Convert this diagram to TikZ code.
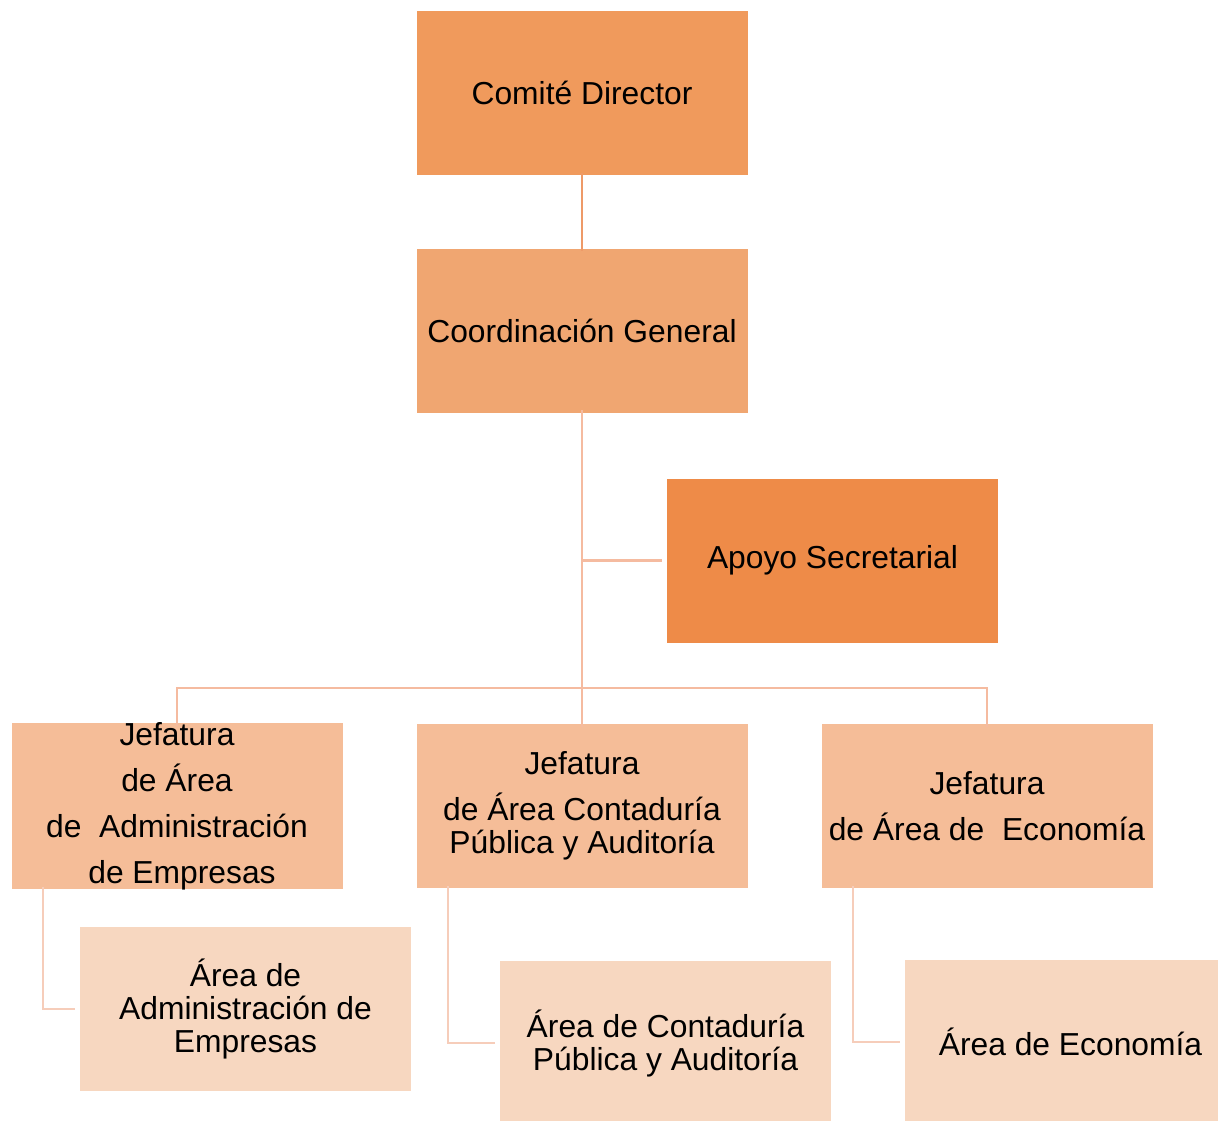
\documentclass[tikz,border=0pt]{standalone}
\usepackage{fontspec}
\setmainfont{Liberation Sans}
\definecolor{cTop}{HTML}{F09A5C}
\definecolor{cCoord}{HTML}{F0A671}
\definecolor{cApoyo}{HTML}{EE8B48}
\definecolor{cJef}{HTML}{F5BD98}
\definecolor{cArea}{HTML}{F7D7C0}
\definecolor{lTop}{HTML}{EE9A68}
\definecolor{lMain}{HTML}{F5BBA0}
\definecolor{lSub}{HTML}{F6CDBA}
\begin{document}
\begin{tikzpicture}[x=1pt,y=-1pt,
  box/.style={rectangle, minimum width=332pt, minimum height=165pt, inner sep=0pt,
    draw=white, line width=0.8pt, align=center, text=black,
    font=\fontsize{31.8}{33}\selectfont},
  topline/.style={draw=lTop, line width=2pt},
  mainline/.style={draw=lMain, line width=2.5pt},
  subline/.style={draw=lSub, line width=2.5pt}]
\clip (0,0) rectangle (1218,1120);
\fill[white] (0,0) rectangle (1218,1120);
% boxes
\node[box, fill=cTop]   (cd) at (582,92.5)   {Comité Director};
\node[box, fill=cCoord] (cg) at (582,330.5)  {Coordinación General};
\node[box, fill=cApoyo] (as) at (832.5,560.5) {Apoyo Secretarial};
\node[box, fill=cJef]   (j1) at (177,806)  {Jefatura\\[13pt]de Área\\[13pt]de~ Administración\\[13pt]\hspace*{10pt}de Empresas};
\node[box, fill=cJef]   (j2) at (582,806)  {Jefatura\\[13pt]de Área Contaduría\\Pública y Auditoría};
\node[box, fill=cJef]   (j3) at (987,806)  {Jefatura\\[13pt]de Área de~ Economía};
\node[box, fill=cArea]  (a1) at (245.5,1009) {Área de\\Administración de\\Empresas};
\node[box, fill=cArea]  (a2) at (665.5,1043) {Área de Contaduría\\Pública y Auditoría};
\node[box, fill=cArea]  (a3) at (1070.5,1042) {Área de Economía};
% connectors
\coordinate (bar) at (582,688);
\draw[topline] ([yshift=2pt]cd.south) -- ([yshift=-3pt]cg.north);
\draw[mainline] ([yshift=3pt]cg.south) -- ([yshift=-4pt]j2.north);
\draw[mainline] (cg.south |- as.west) -- ([xshift=-4pt]as.west);
\draw[mainline] ([yshift=-4pt]j1.north) -- (j1.north |- bar) -- (j3.north |- bar) -- ([yshift=-4pt]j3.north);
\draw[subline] ([xshift=-134pt,yshift=3pt]j1.south) |- ([xshift=-4pt]a1.west);
\draw[subline] ([xshift=-134pt,yshift=3pt]j2.south) |- ([xshift=-4pt]a2.west);
\draw[subline] ([xshift=-134pt,yshift=3pt]j3.south) |- ([xshift=-4pt]a3.west);
\end{tikzpicture}
\end{document}
